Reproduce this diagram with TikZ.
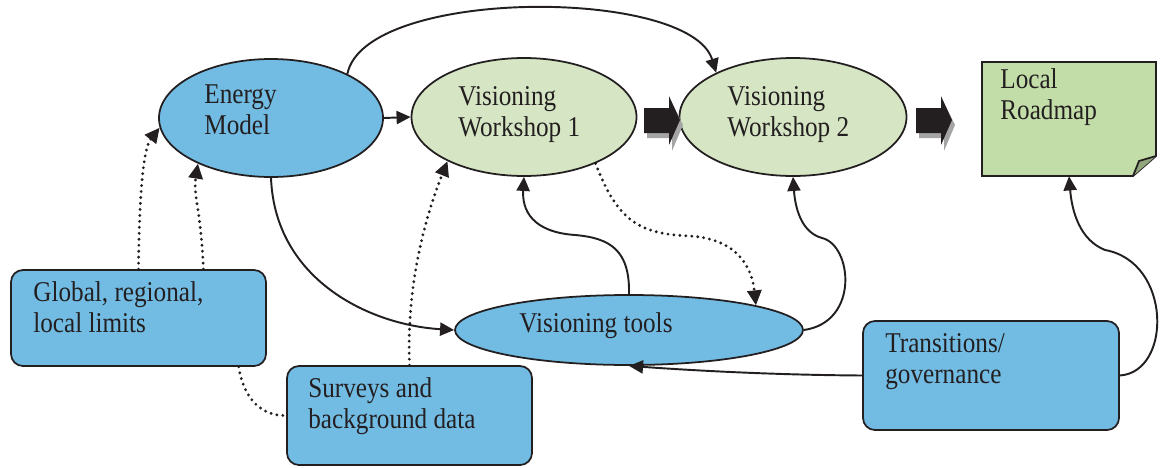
\documentclass[tikz,border=0pt]{standalone}
\usepackage{fontspec}
\setmainfont[FakeStretch=0.88]{Liberation Serif}
\usetikzlibrary{shapes.geometric,arrows.meta}
\definecolor{bluef}{RGB}{114,188,228}
\definecolor{greenf}{RGB}{214,230,196}
\definecolor{notef}{RGB}{195,221,168}
\definecolor{linec}{RGB}{35,31,32}
\definecolor{shadowc}{RGB}{165,165,165}
\tikzset{
  ell/.style={ellipse, draw=linec, line width=1pt, inner sep=0pt},
  rbox/.style={rectangle, rounded corners=0.24cm, draw=linec, line width=1pt, fill=bluef, inner sep=0pt},
  txt/.style={anchor=base west, inner sep=0pt, align=left, text=linec, font=\fontsize{16.3}{17.1}\selectfont},
  conn/.style={draw=linec, line width=1.1pt, -{Triangle[length=8pt,width=7.5pt]}},
  dconn/.style={draw=linec, line width=1.8pt, line cap=round, dash pattern=on 0pt off 3.4pt, -{Triangle[length=8.5pt,width=8pt,line cap=butt]}},
  dline/.style={draw=linec, line width=1.8pt, line cap=round, dash pattern=on 0pt off 3.4pt},
}
\begin{document}
\begin{tikzpicture}[x=0.02cm,y=-0.02cm]
\useasboundingbox (0,0) rectangle (1164,467);

% ellipses
\node[ell, fill=bluef, minimum width=224*0.02cm, minimum height=118*0.02cm] (em) at (271,118) {};
\node[ell, fill=greenf, minimum width=225*0.02cm, minimum height=118*0.02cm] (vw1) at (524,117) {};
\node[ell, fill=greenf, minimum width=227*0.02cm, minimum height=118*0.02cm] (vw2) at (793,117) {};
\node[ell, fill=bluef, minimum width=348*0.02cm, minimum height=70*0.02cm] (vt) at (629,330) {};

% boxes
\node[rbox, minimum width=255*0.02cm, minimum height=96*0.02cm] (gl) at (138.5,318) {};
\node[rbox, minimum width=245*0.02cm, minimum height=99*0.02cm] (sv) at (409.5,415.5) {};
\node[rbox, minimum width=256*0.02cm, minimum height=109*0.02cm] (tr) at (991,375.5) {};

% note
\fill[notef, draw=linec, line width=1pt] (982,62) -- (1156,62) -- (1156,156) -- (1133,176) -- (982,176) -- cycle;
\draw[linec, line width=1pt, fill=notef!75!black] (1133,176) -- (1139,161) -- (1156,156);
\path (982,62) rectangle (1156,176) node[midway, inner sep=0pt, minimum width=174*0.02cm, minimum height=114*0.02cm] (lr) {};

% texts (anchored at baseline of last line)
\node[txt] (emT) at (204,134) {Energy\\Model};
\node[txt] (vw1T) at (458,136) {Visioning\\Workshop 1};
\node[txt] (vw2T) at (727,136) {Visioning\\Workshop 2};
\node[txt] (lrT) at (1000,119) {Local\\Roadmap};
\node[txt] (vtT) at (519,332) {Visioning tools};
\node[txt] (glT) at (33,332) {Global, regional,\\local limits};
\node[txt] (svT) at (308,428) {Surveys and\\background data};
\node[txt] (trT) at (885,383) {Transitions/\\governance};

% block arrows
\foreach \dx in {0,272}{
  \fill[shadowc] (647+\dx,113) -- (672+\dx,113) -- (672+\dx,103) -- (683+\dx,125) -- (672+\dx,151) -- (672+\dx,138) -- (647+\dx,138) -- cycle;
  \fill[linec] (644+\dx,108) -- (669+\dx,108) -- (669+\dx,96) -- (680+\dx,120) -- (669+\dx,145) -- (669+\dx,133) -- (644+\dx,133) -- cycle;
}

% solid connectors
\draw[conn] (em.east) -- (vw1.west);
\draw[conn] (em.30) .. controls (365,-13) and (690,-13) .. (vw2.150);
\draw[conn] (em.south) .. controls (275,280) and (370,325) .. (vt.west);
\draw[conn] (vt.north) .. controls (630,250) and (610,238) .. (575,235) .. controls (532,232) and (522,210) .. (vw1.south);
\draw[conn] (vt.east) .. controls (860,322) and (852,245) .. (822,238) .. controls (800,232) and (795,205) .. (vw2.south);
\draw[conn] (tr.east) .. controls (1172,372) and (1172,262) .. (1105,250) .. controls (1080,240) and (1072,212) .. (lr.south);
\draw[conn] (tr.west) .. controls (780,375) and (700,371) .. (vt.south);

% dotted connectors
\draw[dconn] (gl.north) .. controls (139,210) and (142,150) .. (em.185);
\draw[dconn] (gl.37) .. controls (201,210) and (193,195) .. (em.212);
\draw[dline] (gl.-26) .. controls (244,400) and (262,416) .. (sv.west);
\draw[dconn] (sv.north) .. controls (406,280) and (428,210) .. (vw1.210);
\draw[dconn] (vw1.-33) .. controls (618,222) and (640,234) .. (690,236) .. controls (738,239) and (752,268) .. (vt.11);
\end{tikzpicture}
\end{document}
